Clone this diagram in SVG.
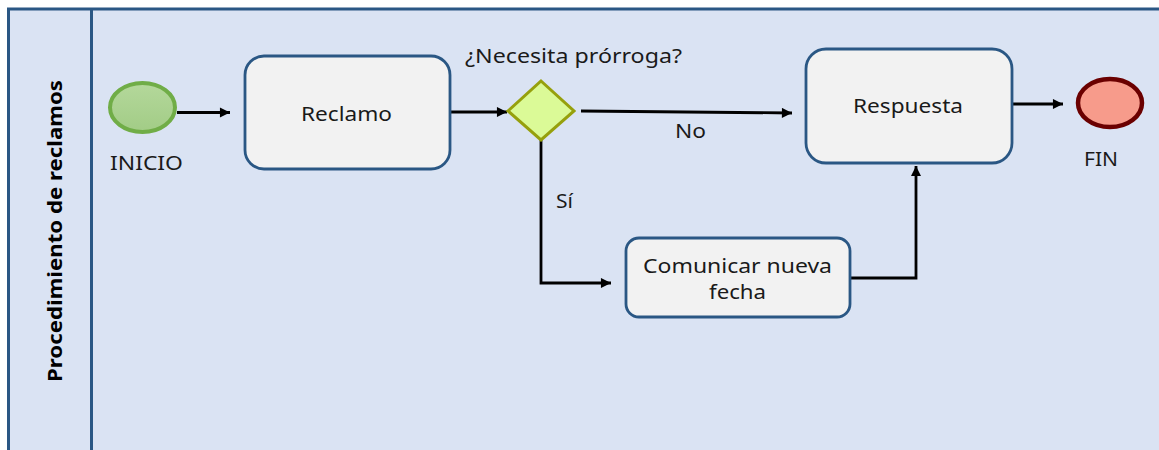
<svg xmlns="http://www.w3.org/2000/svg" width="1159" height="450" viewBox="0 0 1159 450">
<style>
text{font-family:"Noto Sans","Open Sans","DejaVu Sans",sans-serif;font-size:19px;fill:#1a1a1a}
.task{fill:#F2F2F2;stroke:#2A5784;stroke-width:2.8}
.flow{fill:none;stroke:#000;stroke-width:2.8}
.lane{font-weight:bold;font-size:20px;fill:#000}
</style>
<defs>
<marker id="arr" viewBox="0 0 10 10" refX="10" refY="5" markerWidth="4.2" markerHeight="3.6" markerUnits="strokeWidth" orient="auto">
<path d="M0,0 L10,5 L0,10 Z" fill="#000"/>
</marker>
<linearGradient id="gStart" x1="0" y1="0" x2="0" y2="1">
<stop offset="0" stop-color="#B4D89B"/>
<stop offset="1" stop-color="#A2CC86"/>
</linearGradient>
</defs>
<rect x="0" y="0" width="1159" height="450" fill="#FFFFFF"/>
<g id="pool">
<rect x="8.5" y="9" width="1160" height="450" fill="#DAE3F3" stroke="#2A5784" stroke-width="3"/>
<line x1="91.5" y1="9" x2="91.5" y2="450" stroke="#2A5784" stroke-width="3"/>
<text class="lane" transform="translate(62,231) rotate(-90)" text-anchor="middle" textLength="302" lengthAdjust="spacingAndGlyphs">Procedimiento de reclamos</text>
</g>
<g id="connectors">
<line class="flow" x1="177" y1="112.5" x2="230" y2="112.5" marker-end="url(#arr)"/>
<line class="flow" x1="451" y1="112" x2="507" y2="112" marker-end="url(#arr)"/>
<line class="flow" x1="581" y1="111" x2="792" y2="113" marker-end="url(#arr)"/>
<polyline class="flow" points="541,140 541,283 611,283" marker-end="url(#arr)"/>
<polyline class="flow" points="850,278 916,278 916,166" marker-end="url(#arr)"/>
<line class="flow" x1="1008" y1="104" x2="1063" y2="104" marker-end="url(#arr)"/>
<text x="675" y="138" textLength="31" lengthAdjust="spacingAndGlyphs">No</text>
<text x="556" y="208" textLength="17" lengthAdjust="spacingAndGlyphs">Sí</text>
</g>
<g id="inicio">
<ellipse cx="142.5" cy="107.5" rx="32.5" ry="24.5" fill="url(#gStart)" stroke="#70AD47" stroke-width="4"/>
<text x="110" y="170" textLength="73" lengthAdjust="spacingAndGlyphs">INICIO</text>
</g>
<g id="reclamo">
<rect class="task" x="245" y="56" width="205" height="113" rx="19"/>
<text x="301" y="121" textLength="91" lengthAdjust="spacingAndGlyphs">Reclamo</text>
</g>
<g id="gateway">
<polygon points="541,81 574,111 541,140 508,111" fill="#DBFA97" stroke="#96A00C" stroke-width="3"/>
<text x="465" y="63" textLength="217" lengthAdjust="spacingAndGlyphs">¿Necesita prórroga?</text>
</g>
<g id="respuesta">
<rect class="task" x="806" y="49" width="206" height="114" rx="20"/>
<text x="853" y="113" textLength="110" lengthAdjust="spacingAndGlyphs">Respuesta</text>
</g>
<g id="comunicar">
<rect class="task" x="626" y="238" width="224" height="79" rx="13"/>
<text x="643" y="273" textLength="189" lengthAdjust="spacingAndGlyphs">Comunicar nueva</text>
<text x="709" y="299" textLength="57" lengthAdjust="spacingAndGlyphs">fecha</text>
</g>
<g id="fin">
<ellipse cx="1110" cy="103" rx="32" ry="24" fill="#F79B8B" stroke="#6B0000" stroke-width="4.5"/>
<text x="1084" y="166" textLength="34" lengthAdjust="spacingAndGlyphs">FIN</text>
</g>
</svg>
